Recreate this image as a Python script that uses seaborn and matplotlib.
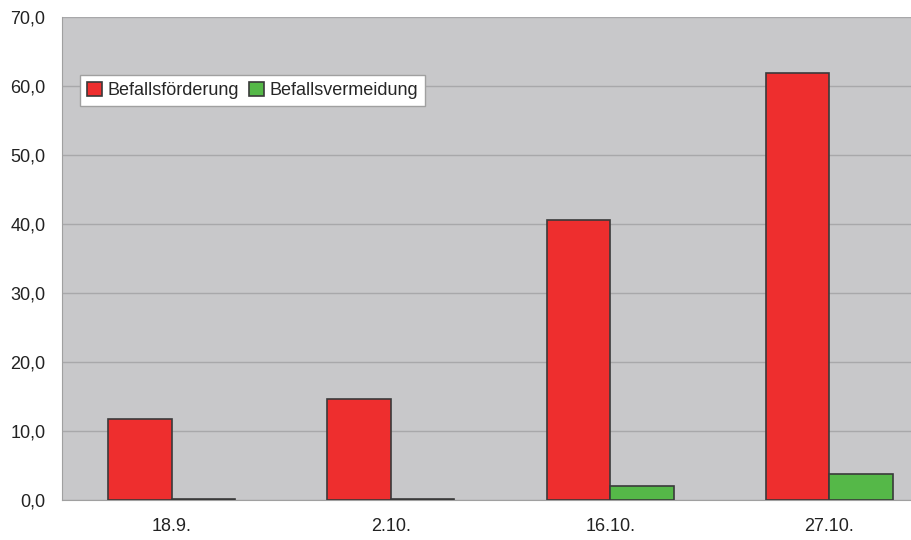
import pandas as pd
import seaborn as sns
import matplotlib.pyplot as plt
from matplotlib.ticker import FuncFormatter, MultipleLocator

dates = ["18.9.", "2.10.", "16.10.", "27.10."]
foerderung = [11.7, 14.7, 40.5, 61.8]
vermeidung = [0.1, 0.1, 2.0, 3.7]
series = ["Befallsförderung", "Befallsvermeidung"]
colors = ["#EE2E2E", "#55B848"]

data = pd.DataFrame({
    "Datum": dates * 2,
    "Wert": foerderung + vermeidung,
    "Reihe": [series[0]] * 4 + [series[1]] * 4,
})

sns.set_style("white")
plt.rcParams["font.family"] = ["Liberation Sans", "DejaVu Sans"]

fig = plt.figure(figsize=(9.12, 5.4), dpi=100)
# plot area runs past the right edge of the picture, as in the original
ax = fig.add_axes([0.068, 0.074, 0.9616, 0.895])
ax.set_facecolor("#C8C8CA")

sns.barplot(x="Datum", y="Wert", hue="Reihe", data=data, palette=colors,
            width=0.58, gap=0, edgecolor="#3a3a3a", linewidth=1.2,
            saturation=1, ax=ax, zorder=3)

ax.set_ylim(0, 70)
ax.set_xlim(-0.5, 3.5)
ax.yaxis.set_major_locator(MultipleLocator(10))
ax.yaxis.set_major_formatter(FuncFormatter(lambda v, p: f"{v:.1f}".replace(".", ",")))
ax.grid(axis="y", color="#A8A8AA", linewidth=1, zorder=0)
ax.set_axisbelow(True)
ax.set_xlabel("")
ax.set_ylabel("")

for s in ["top", "right"]:
    ax.spines[s].set_visible(False)
ax.spines["left"].set_color("#A0A0A0")
ax.spines["bottom"].set_color("#A0A0A0")

ax.set_xticks([0, 1, 2, 3])
ax.set_xticks([0.5, 1.5, 2.5, 3.5], minor=True)
ax.tick_params(axis="x", which="major", length=0, pad=13, labelsize=13, colors="#222222")
ax.tick_params(axis="x", which="minor", length=6, color="#A0A0A0", direction="out")
ax.tick_params(axis="y", length=6, color="#A0A0A0", labelsize=13, colors="#222222", pad=6)

leg = ax.legend(loc="upper left", bbox_to_anchor=(0.0205, 0.88), ncol=2, frameon=True,
                fancybox=False, edgecolor="#A0A0A0", facecolor="white", framealpha=1,
                fontsize=13, handlelength=0.8, handleheight=0.8, handletextpad=0.3,
                columnspacing=0.6, borderpad=0.4, borderaxespad=0)
leg.get_frame().set_linewidth(1)

fig.savefig("out.png", dpi=100)
